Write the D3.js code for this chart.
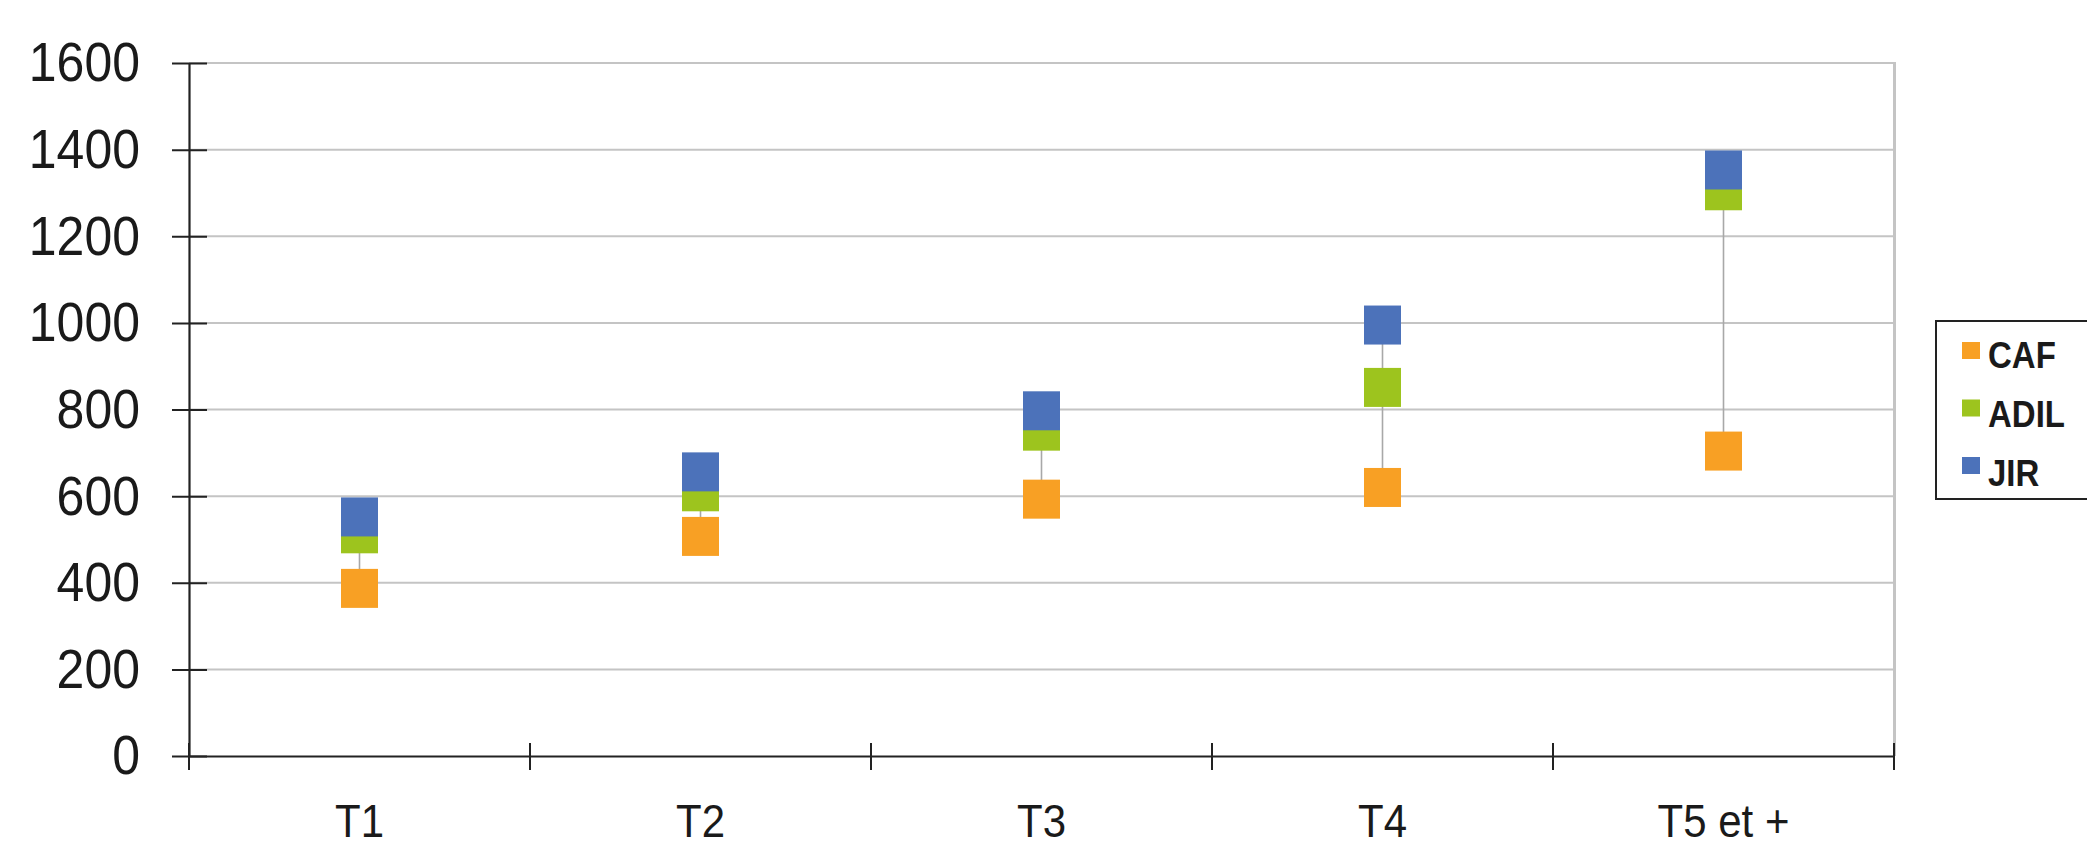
<!DOCTYPE html>
<html>
<head>
<meta charset="utf-8">
<script src="https://cdn.jsdelivr.net/npm/d3@7"></script>
<style>
  html, body { margin: 0; padding: 0; background: #fff; }
  svg { display: block; }
  text { font-family: "Liberation Sans", Arial, sans-serif; fill: #1a1a1a; }
</style>
</head>
<body>
<svg id="chart" width="2087" height="845"></svg>
<script>
// Categories and values per source
const categories = ["T1", "T2", "T3", "T4", "T5 et +"];
const cafValues  = [387, 507, 593, 620, 704];
const adilValues = [513, 610, 750, 851, 1305];
const jirValues  = [552, 656, 797, 995, 1353];
const yTickValues = [0, 200, 400, 600, 800, 1000, 1200, 1400, 1600];
const seriesNames = ["CAF", "ADIL", "JIR"];
const seriesColors = ["#F8A024", "#9DC41E", "#4C72BA"];

const series = [
  { name: seriesNames[0], color: seriesColors[0], values: cafValues },
  { name: seriesNames[1], color: seriesColors[1], values: adilValues },
  { name: seriesNames[2], color: seriesColors[2], values: jirValues }
];

const plot = { left: 189, right: 1894, top: 63, bottom: 756 };
const textStretch = 1.12;

const svg = d3.select("#chart");

const x = d3.scaleBand().domain(categories).range([plot.left, plot.right]);
const y = d3.scaleLinear().domain([0, 1600]).range([plot.bottom, plot.top]);

// Horizontal gridlines
svg.append("g")
  .selectAll("line")
  .data(yTickValues.filter(v => v > 0))
  .join("line")
  .attr("x1", plot.left).attr("x2", plot.right)
  .attr("y1", d => y(d)).attr("y2", d => y(d))
  .attr("stroke", "#c4c4c4").attr("stroke-width", 2);

// Right edge of the plot area
svg.append("line")
  .attr("x1", plot.right + 0.5).attr("x2", plot.right + 0.5)
  .attr("y1", plot.top - 1).attr("y2", plot.bottom)
  .attr("stroke", "#c4c4c4").attr("stroke-width", 3);

// Y axis
const yAxis = svg.append("g")
  .attr("transform", `translate(${plot.left},0)`)
  .call(d3.axisLeft(y).tickValues(yTickValues).tickFormat(d3.format("d"))
    .tickSize(17).tickSizeOuter(0).tickPadding(32));
yAxis.select(".domain").attr("stroke", "#222").attr("stroke-width", 2.2);
yAxis.selectAll(".tick line").attr("x2", -17).attr("x1", 18)
  .attr("stroke", "#222").attr("stroke-width", 2);
yAxis.selectAll(".tick text")
  .attr("font-size", 50)
  .attr("font-family", "Liberation Sans, Arial, sans-serif")
  .attr("fill", "#1a1a1a")
  .attr("transform", `scale(1,${textStretch})`);

// X axis (labels centred in each band)
const xAxis = svg.append("g")
  .attr("transform", `translate(0,${plot.bottom})`)
  .call(d3.axisBottom(x).tickSize(0).tickSizeOuter(0));
xAxis.select(".domain").attr("stroke", "#222").attr("stroke-width", 2.2);
xAxis.selectAll(".tick text")
  .attr("font-size", 42)
  .attr("font-family", "Liberation Sans, Arial, sans-serif")
  .attr("fill", "#1a1a1a")
  .attr("dy", 0)
  .attr("y", 81 / textStretch)
  .attr("transform", `scale(1,${textStretch})`);

// Tick marks on the category boundaries
const boundaries = categories.map(c => x(c)).concat([x.range()[1]]);
svg.append("g")
  .selectAll("line")
  .data(boundaries)
  .join("line")
  .attr("x1", d => d).attr("x2", d => d)
  .attr("y1", plot.bottom - 13).attr("y2", plot.bottom + 14)
  .attr("stroke", "#222").attr("stroke-width", 2);

// High-low lines joining the three values of each category
svg.append("g")
  .selectAll("line")
  .data(categories)
  .join("line")
  .attr("x1", (c) => x(c) + x.bandwidth() / 2)
  .attr("x2", (c) => x(c) + x.bandwidth() / 2)
  .attr("y1", (c, i) => y(d3.min(series, s => s.values[i])))
  .attr("y2", (c, i) => y(d3.max(series, s => s.values[i])))
  .attr("stroke", "#a8a8a8").attr("stroke-width", 1.6);

// Square markers, one series at a time
const mw = 37, mh = 39;
series.forEach(s => {
  svg.append("g")
    .selectAll("rect")
    .data(s.values)
    .join("rect")
    .attr("x", (v, i) => x(categories[i]) + x.bandwidth() / 2 - mw / 2)
    .attr("y", v => y(v) - mh / 2)
    .attr("width", mw).attr("height", mh)
    .attr("fill", s.color);
});

// Legend
const legend = svg.append("g");
legend.append("rect")
  .attr("x", 1936).attr("y", 321)
  .attr("width", 180).attr("height", 178)
  .attr("fill", "#fff").attr("stroke", "#222").attr("stroke-width", 2);
const items = legend.selectAll("g.item")
  .data(series)
  .join("g")
  .attr("class", "item");
items.append("rect")
  .attr("x", 1962).attr("y", (d, i) => 342 + i * 57.5)
  .attr("width", 18).attr("height", 17)
  .attr("fill", d => d.color);
items.append("text")
  .attr("transform", (d, i) => `translate(1988,${368 + i * 59}) scale(1,1.1)`)
  .attr("font-size", 33)
  .attr("font-weight", "bold")
  .text(d => d.name);
</script>
</body>
</html>
